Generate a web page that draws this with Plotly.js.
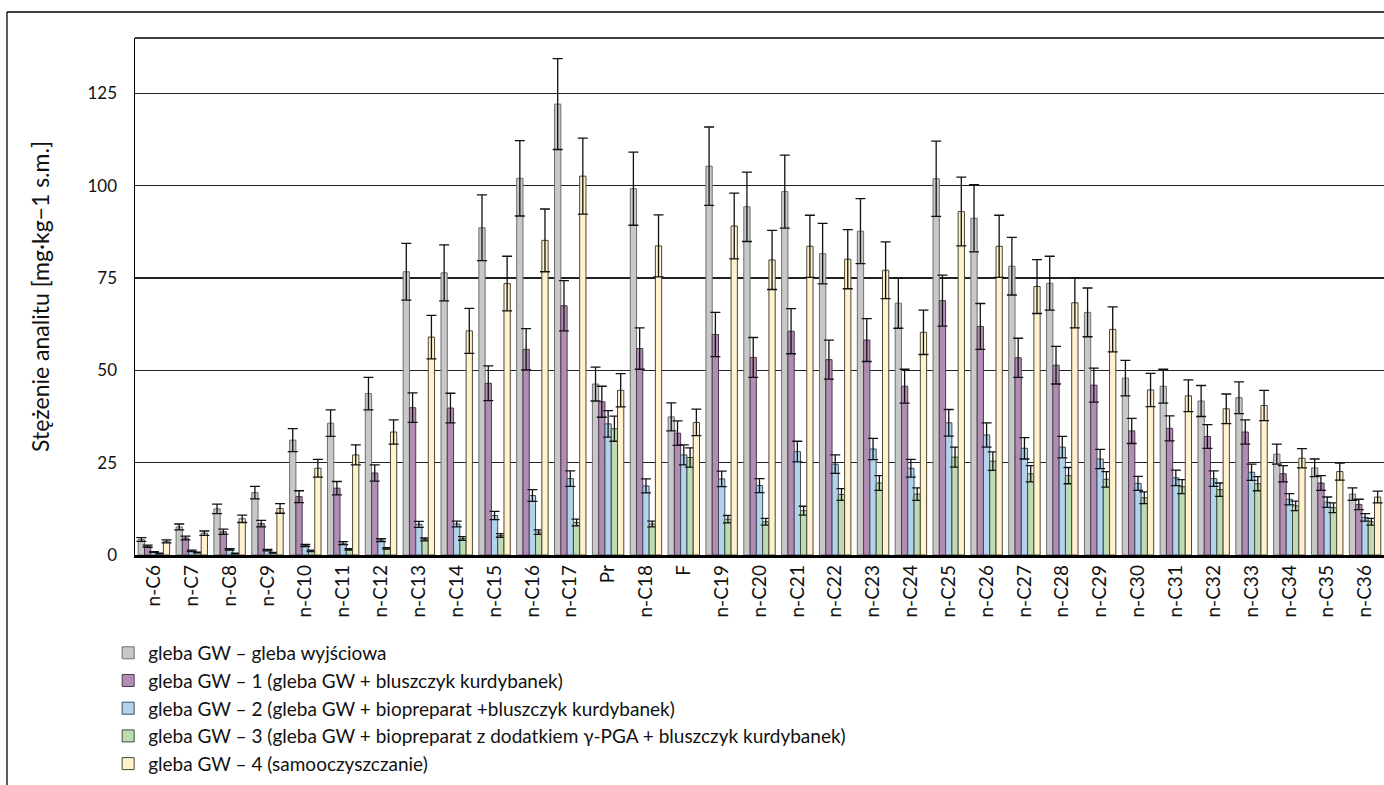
<!DOCTYPE html>
<html>
<head>
<meta charset="utf-8">
<script src="https://cdn.plot.ly/plotly-3.0.1.min.js"></script>
<style>
html,body{margin:0;padding:0;background:#fff;}
#chart{width:1384px;height:785px;}
</style>
</head>
<body>
<div id="chart"></div>
<script>
const categories = ["n-C6","n-C7","n-C8","n-C9","n-C10","n-C11","n-C12","n-C13","n-C14","n-C15","n-C16","n-C17","Pr","n-C18","F","n-C19","n-C20","n-C21","n-C22","n-C23","n-C24","n-C25","n-C26","n-C27","n-C28","n-C29","n-C30","n-C31","n-C32","n-C33","n-C34","n-C35","n-C36"];

const seriesNames = [
  "gleba GW – gleba wyjściowa",
  "gleba GW – 1 (gleba GW + bluszczyk kurdybanek)",
  "gleba GW – 2 (gleba GW + biopreparat +bluszczyk kurdybanek)",
  "gleba GW – 3 (gleba GW + biopreparat z dodatkiem γ-PGA + bluszczyk kurdybanek)",
  "gleba GW – 4 (samooczyszczanie)"
];

const gw0 = [4.2,7.6,12.5,16.9,31.1,35.7,43.7,76.7,76.4,88.6,102.0,122.1,46.3,99.2,37.4,105.3,94.3,98.4,81.6,87.7,68.2,101.9,91.2,78.2,73.6,65.7,47.9,45.7,41.7,42.6,27.3,23.6,16.5];
const gw1 = [2.4,4.6,6.3,8.5,15.8,18.1,22.2,39.9,39.8,46.5,55.7,67.5,41.5,55.9,33.0,59.7,53.5,60.6,52.9,58.2,45.7,68.9,61.9,53.4,51.4,46.0,33.6,34.3,32.1,33.3,22.0,19.5,13.7];
const gw2 = [0.8,1.1,1.5,1.3,2.6,3.2,4.0,8.3,8.4,10.7,16.1,20.7,35.5,18.7,27.1,20.6,18.8,28.0,24.6,28.7,23.5,35.8,32.5,28.9,29.2,26.0,19.4,20.9,20.7,22.4,15.1,14.3,10.2];
const gw3 = [0.4,0.7,0.4,0.6,1.1,1.5,1.8,4.2,4.5,5.3,6.2,8.8,34.2,8.4,26.4,9.7,9.0,12.0,16.4,19.5,16.5,26.5,25.4,22.0,21.5,20.5,15.5,18.5,17.7,19.3,13.3,12.8,9.0];
const gw4 = [3.7,5.9,9.8,12.6,23.5,27.1,33.3,59.0,60.7,73.5,85.2,102.6,44.6,83.7,35.9,89.1,79.9,83.6,80.1,77.1,60.3,93.0,83.6,72.7,68.3,61.1,44.7,43.1,39.6,40.5,26.2,22.6,15.7];

const err0 = [0.5,0.8,1.3,1.7,3.1,3.6,4.4,7.7,7.6,8.9,10.2,12.3,4.6,9.9,3.8,10.6,9.4,9.9,8.2,8.8,6.8,10.2,9.1,7.8,7.3,6.6,4.8,4.6,4.2,4.3,2.7,2.4,1.7];
const err1 = [0.3,0.5,0.7,0.9,1.6,1.8,2.2,4.0,4.0,4.7,5.6,6.8,4.2,5.6,3.3,6.0,5.4,6.1,5.3,5.8,4.6,6.9,6.2,5.3,5.1,4.6,3.4,3.4,3.2,3.3,2.2,2.0,1.4];
const err2 = [0.1,0.2,0.2,0.2,0.3,0.4,0.4,0.8,0.8,1.1,1.6,2.1,3.6,1.9,2.7,2.1,1.9,2.8,2.5,2.9,2.4,3.6,3.3,2.9,2.9,2.6,1.9,2.1,2.1,2.2,1.5,1.4,1.0];
const err3 = [0.1,0.1,0.1,0.1,0.2,0.2,0.2,0.4,0.5,0.5,0.6,0.9,3.4,0.8,2.6,1.0,0.9,1.2,1.6,2.0,1.7,2.7,2.5,2.2,2.2,2.1,1.6,1.9,1.8,1.9,1.3,1.3,0.9];
const err4 = [0.4,0.6,1.0,1.3,2.4,2.7,3.3,5.9,6.1,7.4,8.5,10.3,4.5,8.4,3.6,8.9,8.0,8.4,8.0,7.7,6.0,9.3,8.4,7.3,6.8,6.1,4.5,4.3,4.0,4.1,2.6,2.3,1.6];

const yTicks = [0,25,50,75,100,125];

const values = [gw0,gw1,gw2,gw3,gw4];
const errors = [err0,err1,err2,err3,err4];
const fills = ["#c8c8c8","#b18db3","#b3d2ec","#bddcb3","#fff2cc"];
const outlines = ["#6e6e6e","#4a3a4c","#3e4c58","#3e4c3c","#4a4636"];

const traces = values.map((v,i)=>({
  type:"bar",
  name:seriesNames[i],
  x:categories,
  y:v,
  legendgroup:"g"+i,
  marker:{color:fills[i], line:{color:outlines[i], width:1}},
  error_y:{type:"data", array:errors[i], visible:true, color:"#111", thickness:1.3, width:5}
}));

const font = "Lato, 'Open Sans', sans-serif";
const layout = {
  width:1384, height:785,
  margin:{l:135, r:0, t:38, b:230, autoexpand:false},
  paper_bgcolor:"#fff", plot_bgcolor:"#fff",
  barmode:"group", bargap:0.17, bargroupgap:0,
  font:{family:font, color:"#111", size:17},
  showlegend:true,
  legend:{x:-0.0215, y:-0.1527, xanchor:"left", yanchor:"top", orientation:"v",
    font:{family:font, size:19, color:"#111"}, tracegroupgap:0, itemwidth:30, bgcolor:"rgba(0,0,0,0)"},
  xaxis:{type:"category", tickangle:-90, showgrid:false, showline:true, linecolor:"#000", linewidth:2.5,
    ticks:"", tickfont:{family:font, size:19, color:"#111"}, automargin:false},
  yaxis:{range:[0,140], tickvals:yTicks, ticktext:yTicks.map(String), showgrid:true, gridcolor:"#222", gridwidth:1.5,
    zeroline:false, showline:true, linecolor:"#000", linewidth:1.5, ticks:"", ticklabelstandoff:13,
    tickfont:{family:font, size:17, color:"#111"}, automargin:false,
    title:{text:"Stężenie analitu [mg·kg−1 s.m.]", font:{family:font, size:23, color:"#111"}, standoff:31}},
  shapes:[
    {type:"line", xref:"paper", yref:"paper", x0:0, x1:1.01, y0:1, y1:1, line:{color:"#000", width:1.5}},
    {type:"line", xref:"paper", yref:"paper", x0:-0.1025, x1:1.01, y0:1.0503, y1:1.0503, line:{color:"#000", width:1.3}},
    {type:"line", xref:"paper", yref:"paper", x0:-0.1025, x1:-0.1025, y0:-0.46, y1:1.0503, line:{color:"#000", width:1.3}}
  ]
};

Plotly.newPlot("chart", traces, layout, {displayModeBar:false, staticPlot:true});
</script>
</body>
</html>
